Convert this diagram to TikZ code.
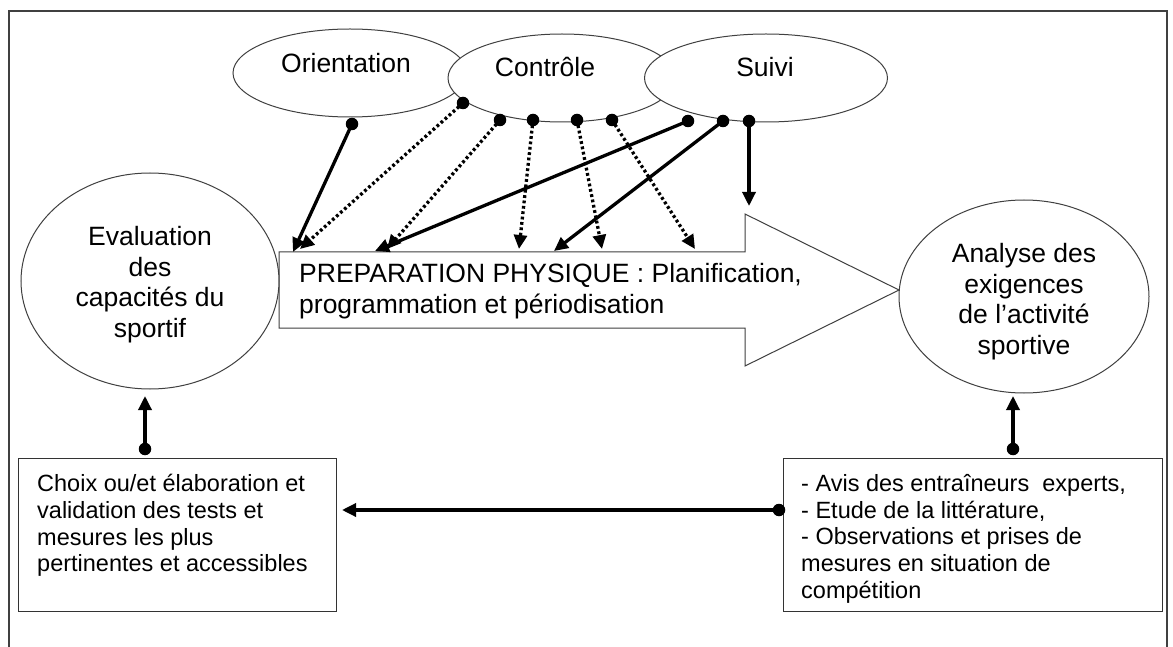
\documentclass[tikz,border=0pt]{standalone}
\usepackage{fontspec}
\setmainfont{Liberation Sans}
\usetikzlibrary{shapes.geometric,arrows.meta}
\begin{document}
\begin{tikzpicture}[x=1pt,y=-1pt,
  oval/.style={draw=black!75, line width=1pt, fill=white, ellipse, inner sep=0pt},
  bigtxt/.style={font=\fontsize{26.5}{30.6}\selectfont, inner sep=0pt},
  boxtxt/.style={font=\fontsize{23.5}{26.8}\selectfont, inner sep=0pt, align=left, anchor=north west},
  boxnode/.style={draw=black!80, line width=1.1pt, fill=white, inner sep=0pt, anchor=north west},
  tipsty/.style={-{Triangle[length=14pt,width=13pt]}},
  solidarrow/.style={line width=3.3pt, tipsty},
  dotarrow/.style={line width=3.3pt, dash pattern=on 2.8pt off 2.6pt, tipsty},
  dot/.style={circle, fill=black, inner sep=0pt, minimum size=12.5pt},
]
\useasboundingbox (0,0) rectangle (1173,647);
\fill[white] (0,0) rectangle (1173,647);
% frame
\draw[line width=1.6pt, black!75] (9,647) -- (9,11) -- (1167,11) -- (1167,647);

% top ellipses
\node[oval, minimum width=234pt, minimum height=88pt] (orient) at (350,73) {};
\node[oval, minimum width=228pt, minimum height=88pt] (ctrl) at (562,78) {};
\node[oval, minimum width=243pt, minimum height=88pt] (suivi) at (766,78) {};
\node[bigtxt, anchor=base] (tOr) at (346,73) {Orientation};
\node[bigtxt, anchor=base] (tCo) at (545,77) {Contrôle};
\node[bigtxt, anchor=base] (tSu) at (765,77) {Suivi};

% big arrow
\draw[draw=black!75, line width=1pt, fill=white]
  (279,252) -- (745,252) -- (745,214) -- (899,290) -- (745,366) -- (745,328) -- (279,328) -- cycle;
\node[bigtxt, anchor=north west, align=left] (prep) at (299,263)
  {PREPARATION PHYSIQUE : Planification,\\programmation et périodisation};

% side ellipses
\node[oval, minimum width=258pt, minimum height=216pt] (eval) at (150,281) {};
\node[bigtxt, anchor=north, align=center] (tEv) at (150,226)
  {Evaluation\\des\\capacités du\\sportif};
\node[oval, minimum width=250pt, minimum height=193pt] (anal) at (1024,296.5) {};
\node[bigtxt, anchor=north, align=center] (tAn) at (1024,243)
  {Analyse des\\exigences\\de l’activité\\sportive};

% boxes
\node[boxnode, minimum width=318pt, minimum height=153pt] (lbox) at (18,458) {};
\node[boxtxt] (lboxt) at (37,474)
  {Choix ou/et élaboration et\\validation des tests et\\mesures les plus\\pertinentes et accessibles};
\node[boxnode, minimum width=379pt, minimum height=153pt] (rbox) at (783,458) {};
\node[boxtxt] (rboxt) at (801,474)
  {- Avis des entraîneurs\ \ experts,\\- Etude de la littérature,\\- Observations et prises de\\mesures en situation de\\compétition};

% start dots
\node[dot] (o1) at (352,124) {};
\node[dot] (c1) at (463,103) {};
\node[dot] (c2) at (500,120) {};
\node[dot] (c3) at (533,120) {};
\node[dot] (c4) at (577,120) {};
\node[dot] (c5) at (612,120) {};
\node[dot] (s1) at (688,121) {};
\node[dot] (s2) at (723,121) {};
\node[dot] (s3) at (749,121) {};
\node[dot] (lb) at (145,449) {};
\node[dot] (rb) at (1013,449) {};
\node[dot] (hb) at (779,510) {};

% end points
\coordinate (e1) at (293,252);
\coordinate (e2) at (300,249);
\coordinate (e3) at (387,249);
\coordinate (e4) at (519,249);
\coordinate (e5) at (602,249);
\coordinate (e6) at (695,249);
\coordinate (e7) at (375,251);
\coordinate (e8) at (554,251);
\coordinate (e9) at (749,206);
\coordinate (el) at (145,396);
\coordinate (er) at (1013,396);
\coordinate (eh) at (342,510);

% connectors
\draw[solidarrow] (o1.center) -- (e1);
\draw[dotarrow] (c1.center) -- (e2);
\draw[dotarrow] (c2.center) -- (e3);
\draw[dotarrow] (c3.center) -- (e4);
\draw[dotarrow] (c4.center) -- (e5);
\draw[dotarrow] (c5.center) -- (e6);
\draw[solidarrow] (s1.center) -- (e7);
\draw[solidarrow] (s2.center) -- (e8);
\draw[solidarrow] (s3.center) -- (e9);
\draw[solidarrow] (lb.center) -- (el);
\draw[solidarrow] (rb.center) -- (er);
\draw[solidarrow] (hb.center) -- (eh);
\end{tikzpicture}
\end{document}
